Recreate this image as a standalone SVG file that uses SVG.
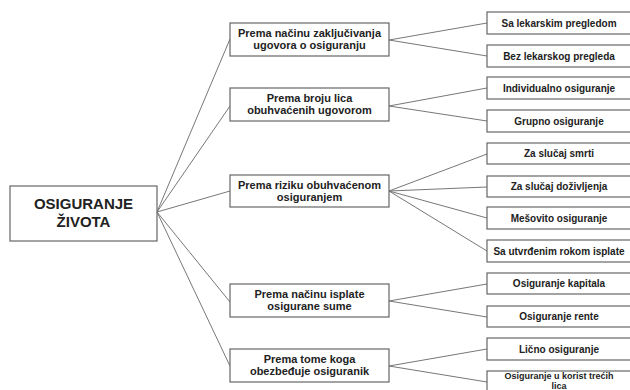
<svg xmlns="http://www.w3.org/2000/svg" width="630" height="390" viewBox="0 0 630 390">
<style>
.box{fill:#fff;stroke:#666;stroke-width:1.2}
.ln{stroke:#777;stroke-width:1;fill:none}
text{font-family:"Liberation Sans",Arial,sans-serif;font-weight:bold;fill:#222;text-anchor:middle}
.r{font-size:15px}
.m{font-size:11px}
.l{font-size:10px}
.s{font-size:9px}
</style>
<rect width="630" height="390" fill="#fff"/>
<g id="connectors">
<path class="ln" d="M157 212L230 39M157 212L230 106M157 212L230 191M157 212L230 302M157 212L230 366"/>
<path class="ln" d="M389 40L487 23M389 40L487 56"/>
<path class="ln" d="M389 106L487 88M389 106L487 121"/>
<path class="ln" d="M389 191L487 154M389 191L487 187M389 191L487 218M389 191L487 251"/>
<path class="ln" d="M389 301L487 284M389 301L487 317"/>
<path class="ln" d="M389 366L487 349M389 366L487 382"/>
</g>
<g id="root"><rect class="box" x="10" y="186" width="147" height="55"/><text class="r" x="83.5" y="209">OSIGURANJE</text><text class="r" x="83.5" y="227">ŽIVOTA</text></g>
<g id="m1"><rect class="box" x="230" y="23" width="159" height="33"/><text class="m" x="309.5" y="37">Prema načinu zaključivanja</text><text class="m" x="309.5" y="49">ugovora o osiguranju</text></g>
<g id="m2"><rect class="box" x="230" y="88" width="159" height="33"/><text class="m" x="309.5" y="102">Prema broju lica</text><text class="m" x="309.5" y="114">obuhvaćenih ugovorom</text></g>
<g id="m3"><rect class="box" x="230" y="175" width="159" height="32"/><text class="m" x="309.5" y="189">Prema riziku obuhvaćenom</text><text class="m" x="309.5" y="201">osiguranjem</text></g>
<g id="m4"><rect class="box" x="230" y="284" width="159" height="33"/><text class="m" x="309.5" y="298">Prema načinu isplate</text><text class="m" x="309.5" y="310">osigurane sume</text></g>
<g id="m5"><rect class="box" x="230" y="349" width="159" height="33"/><text class="m" x="309.5" y="363">Prema tome koga</text><text class="m" x="309.5" y="375">obezbeđuje osiguranik</text></g>
<g id="r1"><rect class="box" x="487" y="12" width="145" height="22"/><text class="l" x="559" y="27">Sa lekarskim pregledom</text></g>
<g id="r2"><rect class="box" x="487" y="45" width="145" height="22"/><text class="l" x="559" y="60">Bez lekarskog pregleda</text></g>
<g id="r3"><rect class="box" x="487" y="77" width="145" height="22"/><text class="l" x="559" y="92">Individualno osiguranje</text></g>
<g id="r4"><rect class="box" x="487" y="110" width="145" height="22"/><text class="l" x="559" y="125">Grupno osiguranje</text></g>
<g id="r5"><rect class="box" x="487" y="143" width="145" height="21"/><text class="l" x="559" y="157">Za slučaj smrti</text></g>
<g id="r6"><rect class="box" x="487" y="176" width="145" height="21"/><text class="l" x="559" y="190">Za slučaj doživljenja</text></g>
<g id="r7"><rect class="box" x="487" y="207" width="145" height="22"/><text class="l" x="559" y="222">Mešovito osiguranje</text></g>
<g id="r8"><rect class="box" x="487" y="240" width="145" height="22"/><text class="l" x="559" y="255">Sa utvrđenim rokom isplate</text></g>
<g id="r9"><rect class="box" x="487" y="273" width="145" height="21"/><text class="l" x="559" y="287">Osiguranje kapitala</text></g>
<g id="r10"><rect class="box" x="487" y="306" width="145" height="21"/><text class="l" x="559" y="320">Osiguranje rente</text></g>
<g id="r11"><rect class="box" x="487" y="338" width="145" height="22"/><text class="l" x="559" y="353">Lično osiguranje</text></g>
<g id="r12"><rect class="box" x="487" y="371" width="145" height="30"/><text class="s" x="559" y="378.5">Osiguranje u korist trećih</text><text class="s" x="559" y="389">lica</text></g>
</svg>
